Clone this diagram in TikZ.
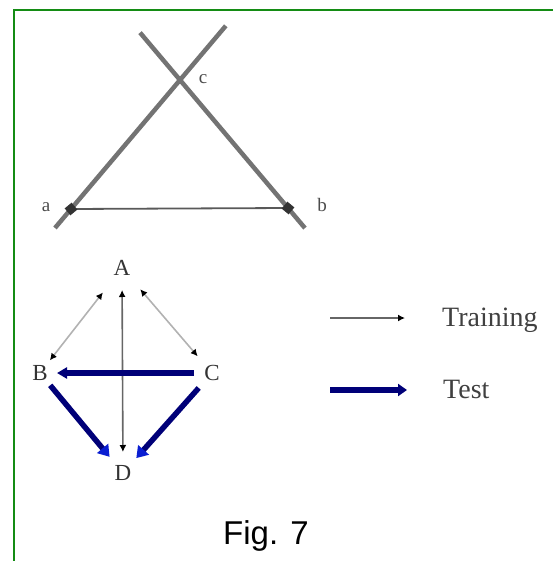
\documentclass[tikz,border=0pt]{standalone}
\usepackage{fontspec}
\setmainfont{Liberation Serif}
\setsansfont{Liberation Sans}
\usetikzlibrary{arrows.meta,calc}
\definecolor{framegreen}{RGB}{20,140,20}
\definecolor{testblue}{RGB}{0,0,120}
\definecolor{headblue}{RGB}{10,30,210}

\begin{document}
\begin{tikzpicture}[x=1pt, y=-1pt, >={Latex[length=7pt,width=7pt,color=black]},
  lbl/.style={inner sep=0pt, text=black!70, font=\fontsize{19}{19}\selectfont},
  vert/.style={inner sep=0pt, text=black!80, font=\fontsize{23}{23}\selectfont},
  legend/.style={inner sep=0pt, text=black!75, font=\fontsize{28}{28}\selectfont},
  rod/.style={line width=4.5pt, black!55},
  dot/.style={rectangle, fill=black!80, inner sep=0pt, minimum size=9pt},
  train/.style={line width=1.6pt, black!60},
  faint/.style={line width=1.6pt, black!30},
  test/.style={line width=5.5pt, testblue}]

\useasboundingbox (0,0) rectangle (553,561);

% Frame
\draw[framegreen, line width=2pt] (13.5,561) -- (13.5,10.5) -- (553,10.5);

% Crossing rods and base
\coordinate (a) at (71,209);
\coordinate (b) at (288,208);
\coordinate (c) at (180,80);
\draw[rod] ($(a)!-0.147!(c)$) -- ($(c)!-0.42!(a)$);
\draw[rod] ($(c)!-0.37!(b)$) -- ($(b)!-0.157!(c)$);
\draw[black!65, line width=1.8pt] (a) -- (b);
\node[dot, rotate=-50] (da) at (a) {};
\node[dot, rotate=50] (db) at (b) {};

% Labels a, b, c
\node[lbl] (la) at (46,207) {a};
\node[lbl] (lb) at (322,205) {b};
\node[lbl] (lc) at (203,79) {c};

% Graph vertices
\node[vert] (A) at (122,268) {A};
\node[vert] (B) at (40,373) {B};
\node[vert] (C) at (212,373) {C};
\node[vert] (D) at (123,473) {D};

% Training edges
\draw[faint, <->, shorten <=31pt, shorten >=16pt] (A.center) -- (B.center);
\draw[faint, <->, shorten <=28pt, shorten >=22pt] (A.center) -- (C.center);
\draw[train, <->, shorten <=22pt, shorten >=21pt] (A.center) -- (D.center);

% Test edges
\draw[test, -{Triangle[length=10pt,width=11pt]}, shorten <=18pt, shorten >=17pt] (C.center) -- (B.center);
\draw[test, -{Triangle[length=11pt,width=14pt,color=headblue]}, shorten <=16pt, shorten >=21pt] (B.center) -- (D.center);
\draw[test, -{Triangle[length=11pt,width=14pt,color=headblue]}, shorten <=20pt, shorten >=20pt] (C.center) -- (D.center);

% Legend
\coordinate (trs) at (330,318);
\node[legend, anchor=base west] (trn) at (442,326) {Training};
\draw[train, ->, shorten >=37pt] (trs) -- (trs -| trn.west);
\coordinate (tss) at (330,390);
\node[legend, anchor=base west] (tst) at (443,398) {Test};
\draw[test, -{Triangle[length=9pt,width=12pt]}, shorten >=36pt] (tss) -- (tss -| tst.west);

% Caption
\node[inner sep=0pt, anchor=base, font=\sffamily\fontsize{33}{33}\selectfont] (fig) at (266,544) {Fig. 7};
\end{tikzpicture}
\end{document}
